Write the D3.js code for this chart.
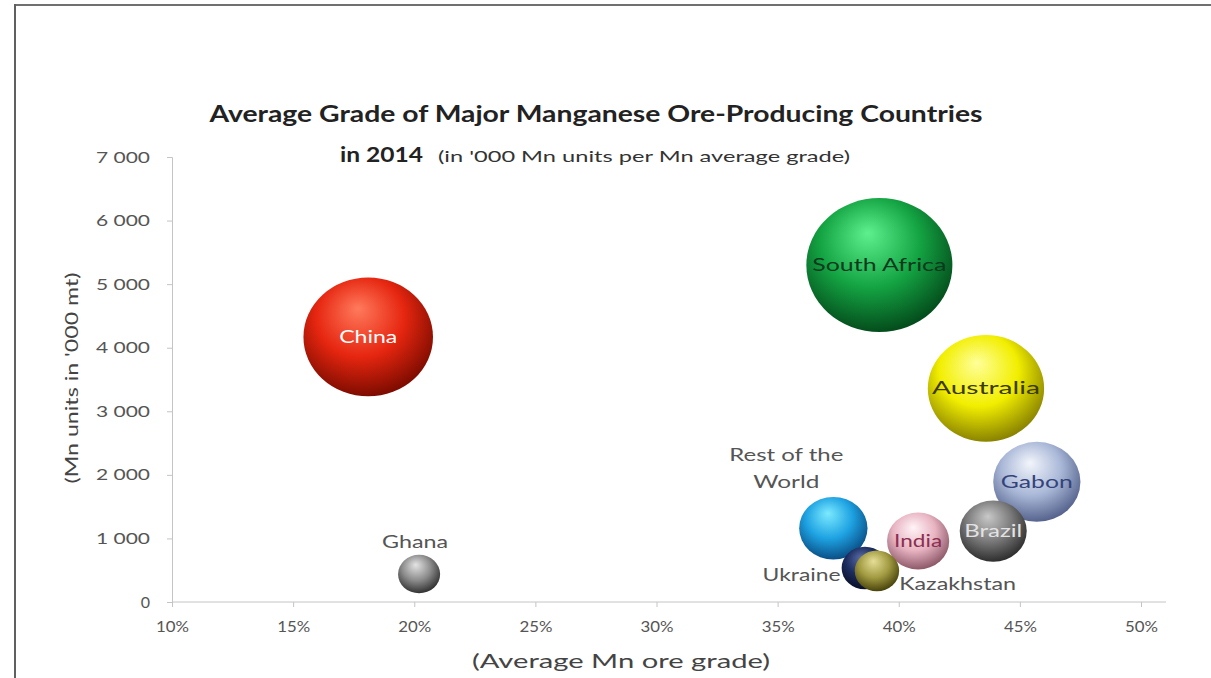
<!DOCTYPE html>
<html>
<head>
<meta charset="utf-8">
<script src="https://cdn.jsdelivr.net/npm/d3@7"></script>
<style>
  html, body { margin: 0; padding: 0; background: #fff; }
  svg { display: block; font-family: Lato, "Open Sans", sans-serif; }
</style>
</head>
<body>
<svg id="chart" width="1211" height="678"></svg>
<script>
// Average Mn ore grade (x, %), Mn units in '000 mt (y); bubble size follows Mn units
const countries = ["China", "South Africa", "Australia", "Gabon", "Brazil", "India",
                   "Rest of the World", "Ukraine", "Kazakhstan", "Ghana"];
const grades    = [18.1, 39.2, 43.6, 45.7, 43.9, 40.8, 37.3, 38.6, 39.1, 20.2];
const mnUnits   = [4170, 5300, 3360, 1890, 1115, 960, 1160, 535, 490, 440];
const yTicks    = [0, 1000, 2000, 3000, 4000, 5000, 6000, 7000];
const xTicks    = [10, 15, 20, 25, 30, 35, 40, 45, 50];

// bubble shading: [highlight, base, rim]
const palette = {
  "China":             ["#ff7a5c", "#e62610", "#7e0c00"],
  "South Africa":      ["#5ef08e", "#14a443", "#044d1c"],
  "Australia":         ["#ffff9a", "#f2ee00", "#8a8400"],
  "Gabon":             ["#f2f5fb", "#aab8d8", "#56648e"],
  "Brazil":            ["#c8c8c8", "#7a7a7a", "#2e2e2e"],
  "India":             ["#fff4f7", "#e8b4c2", "#8e5a6a"],
  "Rest of the World": ["#7ceaff", "#1ea2e2", "#0a4f86"],
  "Ukraine":           ["#5a6ea8", "#1c2c5e", "#080f26"],
  "Kazakhstan":        ["#e6de96", "#a29b42", "#4a440c"],
  "Ghana":             ["#e4e4e4", "#8c8c8c", "#323232"]
};
// labels drawn inside the bubble: colour and run width
const insideLabels = {
  "China":        { fill: "#ffffff", w: 58 },
  "South Africa": { fill: "#0b3a1c", w: 134 },
  "Australia":    { fill: "#3b3a00", w: 108 },
  "Gabon":        { fill: "#34447a", w: 72 },
  "Brazil":       { fill: "#e2e2e2", w: 58 },
  "India":        { fill: "#8c2f52", w: 48 }
};

const svg = d3.select("#chart");

// outer frame
svg.append("line").attr("x1", 15).attr("x2", 1211).attr("y1", 5).attr("y2", 5)
  .attr("stroke", "#707070").attr("stroke-width", 2);
svg.append("line").attr("x1", 15).attr("x2", 15).attr("y1", 4).attr("y2", 678)
  .attr("stroke", "#606060").attr("stroke-width", 2);

const x = d3.scaleLinear().domain([10, 50]).range([172, 1141]);
const y = d3.scaleLinear().domain([0, 7000]).range([602, 157]);
const r = d3.scaleSqrt().domain([0, d3.max(mnUnits)]).range([0, 67]);
const stretch = 1.09;

const locale = d3.formatLocale({ thousands: "\u00a0", grouping: [3], decimal: ",", currency: ["", ""] });
const fmtY = locale.format(",d");

// text with a fixed run width (the drawing is slightly wide-set)
function txt(parent, s, tx, ty, anchor, size, width, fill, weight) {
  const t = parent.append("text").attr("x", tx).attr("y", ty).attr("text-anchor", anchor)
    .attr("font-size", size).attr("fill", fill).text(s);
  if (weight) t.attr("font-weight", weight);
  if (width) t.attr("textLength", width).attr("lengthAdjust", "spacingAndGlyphs");
  return t;
}

// gradients
const defs = svg.append("defs");
countries.forEach((c, i) => {
  const [hi, base, rim] = palette[c];
  const g = defs.append("radialGradient").attr("id", "g" + i)
    .attr("cx", "45%").attr("cy", "38%").attr("r", "62%").attr("fx", "42%").attr("fy", "26%");
  g.append("stop").attr("offset", "0%").attr("stop-color", hi);
  g.append("stop").attr("offset", "55%").attr("stop-color", base);
  g.append("stop").attr("offset", "100%").attr("stop-color", rim);
});

// axes
const axisColor = "#c4c4c4";
const yAxis = svg.append("g").attr("transform", `translate(${x(10)},0)`)
  .call(d3.axisLeft(y).tickValues(yTicks).tickSize(5).tickPadding(17).tickFormat(fmtY));
const xAxis = svg.append("g").attr("transform", `translate(0,${y(0)})`)
  .call(d3.axisBottom(x).tickValues(xTicks).tickSize(5).tickPadding(14).tickFormat(d => d + "%"));
[yAxis, xAxis].forEach(a => {
  a.select(".domain").attr("stroke", axisColor);
  a.selectAll(".tick line").attr("stroke", axisColor);
  a.selectAll(".tick text").attr("fill", "#555").attr("font-family", "Lato, sans-serif");
});
yAxis.selectAll(".tick text").attr("font-size", 16)
  .each(function (d) { if (d > 0) d3.select(this).attr("textLength", 54).attr("lengthAdjust", "spacingAndGlyphs"); });
xAxis.selectAll(".tick text").attr("font-size", 15)
  .attr("textLength", 33).attr("lengthAdjust", "spacingAndGlyphs");
xAxis.select(".domain").attr("d", `M${x(10)},0H1166`);

// bubbles, larger drawn first
const data = countries.map((c, i) => ({ c, i, gx: grades[i], v: mnUnits[i] }));
const order = data.slice().sort((a, b) => b.v - a.v);
svg.append("g").selectAll("ellipse").data(order).join("ellipse")
  .attr("cx", d => x(d.gx)).attr("cy", d => y(d.v))
  .attr("rx", d => r(d.v) * stretch).attr("ry", d => r(d.v))
  .attr("fill", d => `url(#g${d.i})`);

// labels
const lbl = svg.append("g").attr("font-family", "Lato, sans-serif");
data.forEach(d => {
  const st = insideLabels[d.c];
  if (st) txt(lbl, d.c, x(d.gx), y(d.v) + 6, "middle", 17, st.w, st.fill);
});
const gray = "#555";
const iRow = countries.indexOf("Rest of the World");
txt(lbl, "Rest of the", x(grades[iRow]) - 47, y(mnUnits[iRow]) - 67, "middle", 18, 114, gray);
txt(lbl, "World", x(grades[iRow]) - 47, y(mnUnits[iRow]) - 40, "middle", 18, 66, gray);
const iUkr = countries.indexOf("Ukraine");
txt(lbl, "Ukraine", x(grades[iUkr]) - r(mnUnits[iUkr]) * stretch - 1, y(mnUnits[iUkr]) + 13, "end", 18, 78, gray);
const iKaz = countries.indexOf("Kazakhstan");
txt(lbl, "Kazakhstan", x(grades[iKaz]) + r(mnUnits[iKaz]) * stretch, y(mnUnits[iKaz]) + 19, "start", 18, 117, gray);
const iGh = countries.indexOf("Ghana");
txt(lbl, "Ghana", x(grades[iGh]) - 4, y(mnUnits[iGh]) - 26, "middle", 17, 66, gray);

// title
txt(svg, "Average Grade of Major Manganese Ore-Producing Countries", 596, 122, "middle", 22, 773, "#222", "bold");
txt(svg, "in 2014", 340, 162, "start", 21, 83, "#222", "bold");
txt(svg, "(in '000 Mn units per  Mn average grade)", 438, 162, "start", 16, 412, "#333");

// axis titles
txt(svg, "(Average Mn ore grade)", 621, 668, "middle", 19, 298, "#444");
txt(svg, "(Mn units in '000 mt)", 0, 0, "middle", 18, 211, "#444")
  .attr("transform", "translate(78,378) rotate(-90)");
</script>
</body>
</html>
